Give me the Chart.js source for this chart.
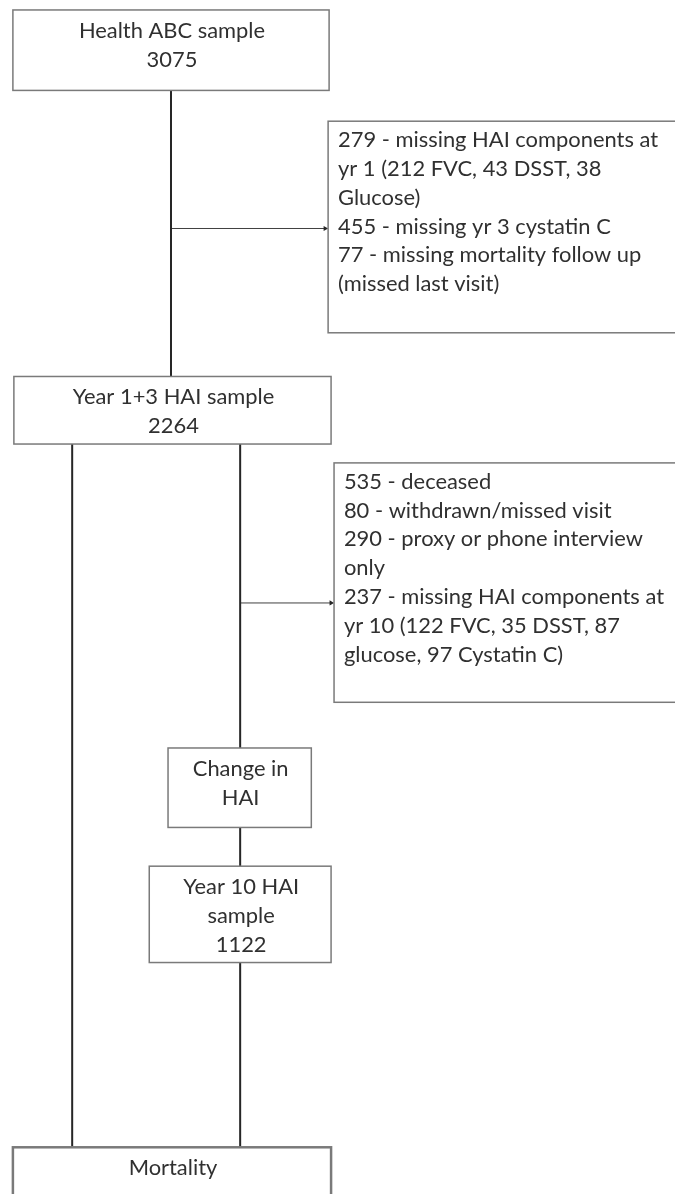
<!DOCTYPE html>
<html>
<head>
<meta charset="utf-8">
<script src="https://cdn.jsdelivr.net/npm/chart.js@4.4.1/dist/chart.umd.min.js"></script>
<style>
  html, body { margin: 0; padding: 0; background: #fff; }
  #wrap { width: 675px; height: 1194px; position: relative; }
</style>
</head>
<body>
<div id="wrap"><canvas id="flow"></canvas></div>
<script>
// Flow data: sample stages and their counts
const stageLabels = ['Health ABC sample', 'Year 1+3 HAI sample', 'Change in\nHAI', 'Year 10 HAI\nsample', 'Mortality'];
const stageCounts = [3075, 2264, null, 1122, null];

// Exclusions between baseline and year 1+3
const exclusionCounts1 = [279, 455, 77];
const exclusionReasons1 = [
  'missing HAI components at\nyr 1 (212 FVC, 43 DSST, 38\nGlucose)',
  'missing yr 3 cystatin C',
  'missing mortality follow up\n(missed last visit)'
];

// Exclusions between year 1+3 and year 10
const exclusionCounts2 = [535, 80, 290, 237];
const exclusionReasons2 = [
  'deceased',
  'withdrawn/missed visit',
  'proxy or phone interview\nonly',
  'missing HAI components at\nyr 10 (122 FVC, 35 DSST, 87\nglucose, 97 Cystatin C)'
];

// Box layout in chart units (1 unit = 1 px, y grows downward)
const stageBoxes = [
  { x: 9, y: 6, w: 320, h: 81 },
  { x: 10, y: 375, w: 321, h: 68 },
  { x: 166, y: 749, w: 145, h: 80 },
  { x: 147, y: 868, w: 184, h: 97 },
  { x: 9, y: 1151, w: 322, h: 80 }
];
const exclusionBoxes = [
  { x: 328, y: 118, w: 360, h: 213 },
  { x: 334, y: 462, w: 360, h: 241 }
];

const FONT_FAMILY = 'Lato, "Open Sans", sans-serif';
const LINE_H = 29;
const TEXT_COLOR = '#303030';

function stageLines(i) {
  const lines = stageLabels[i].split('\n');
  if (stageCounts[i] !== null) lines.push(String(stageCounts[i]));
  return lines;
}

function exclusionLines(counts, reasons) {
  const out = [];
  counts.forEach((c, i) => {
    reasons[i].split('\n').forEach((part, j) => {
      out.push(j === 0 ? c + ' - ' + part : part);
    });
  });
  return out;
}

const midX = b => b.x + b.w / 2;
const bottom = b => b.y + b.h;

// Connector datasets built from the box layout
const b = stageBoxes;
const mainX = midX(b[0]);
const leftX = 69;
const rightX = 239;
const arrow1Y = exclusionBoxes[0].y + 108;
const arrow2Y = exclusionBoxes[1].y + 141;

const connectors = [
  [{ x: mainX, y: bottom(b[0]) }, { x: mainX, y: b[1].y }],
  [{ x: leftX, y: bottom(b[1]) }, { x: leftX, y: b[4].y }],
  [{ x: rightX, y: bottom(b[1]) }, { x: rightX, y: b[2].y }],
  [{ x: rightX, y: bottom(b[2]) }, { x: rightX, y: b[3].y }],
  [{ x: rightX, y: bottom(b[3]) }, { x: rightX, y: b[4].y }]
];
const arrows = [
  [{ x: mainX, y: arrow1Y }, { x: exclusionBoxes[0].x - 3, y: arrow1Y }],
  [{ x: rightX, y: arrow2Y }, { x: exclusionBoxes[1].x - 3, y: arrow2Y }]
];

const datasets = [];
connectors.forEach(pts => datasets.push({
  data: pts, showLine: true, borderColor: '#262626', borderWidth: 2,
  pointRadius: 0, order: 1
}));
arrows.forEach(pts => datasets.push({
  data: pts, showLine: true, borderColor: '#404040', borderWidth: 1,
  pointStyle: 'triangle', rotation: 90,
  pointRadius: ctx => ctx.dataIndex === 1 ? 3 : 0,
  pointBackgroundColor: '#262626', pointBorderColor: '#262626', pointBorderWidth: 0,
  order: 1
}));

// Draws the boxes and their text through the chart scales
const boxPlugin = {
  id: 'boxes',
  afterDatasetsDraw(chart) {
    const { ctx, scales: { x, y } } = chart;
    const fontSize = fitFont(ctx);

    function rect(box, lw) {
      const x0 = x.getPixelForValue(box.x), x1 = x.getPixelForValue(box.x + box.w);
      const y0 = y.getPixelForValue(box.y), y1 = y.getPixelForValue(box.y + box.h);
      ctx.save();
      ctx.fillStyle = '#fff';
      ctx.fillRect(x0, y0, x1 - x0, y1 - y0);
      ctx.strokeStyle = '#7a7a7a';
      ctx.lineWidth = lw;
      ctx.strokeRect(x0, y0, x1 - x0, y1 - y0);
      ctx.restore();
    }

    ctx.save();
    ctx.font = fontSize + 'px ' + FONT_FAMILY;
    ctx.textBaseline = 'middle';

    stageBoxes.forEach((box, i) => {
      rect(box, i === 4 ? 2.5 : 1.5);
      ctx.fillStyle = TEXT_COLOR;
      ctx.textAlign = 'center';
      stageLines(i).forEach((line, j) => {
        ctx.fillText(line, x.getPixelForValue(midX(box) + 1), y.getPixelForValue(box.y + 21 + j * LINE_H));
      });
    });

    const groups = [
      exclusionLines(exclusionCounts1, exclusionReasons1),
      exclusionLines(exclusionCounts2, exclusionReasons2)
    ];
    exclusionBoxes.forEach((box, i) => {
      rect(box, 1.5);
      ctx.fillStyle = TEXT_COLOR;
      ctx.textAlign = 'left';
      groups[i].forEach((line, j) => {
        ctx.fillText(line, x.getPixelForValue(box.x + 10), y.getPixelForValue(box.y + 19 + j * LINE_H));
      });
    });
    ctx.restore();
  }
};

// Pick a font size so the widest exclusion line spans about 320 px
function fitFont(ctx) {
  ctx.save();
  ctx.font = '20px ' + FONT_FAMILY;
  const w = ctx.measureText('279 - missing HAI components at').width;
  ctx.restore();
  return Math.round(20 * 320 / w * 10) / 10;
}

new Chart(document.getElementById('flow'), {
  type: 'scatter',
  data: { datasets },
  options: {
    responsive: true,
    maintainAspectRatio: false,
    animation: false,
    layout: { padding: 0 },
    plugins: { legend: { display: false }, tooltip: { enabled: false } },
    scales: {
      x: { type: 'linear', min: 0, max: 675, display: false },
      y: { type: 'linear', min: 0, max: 1194, reverse: true, display: false }
    }
  },
  plugins: [boxPlugin]
});
</script>
</body>
</html>
